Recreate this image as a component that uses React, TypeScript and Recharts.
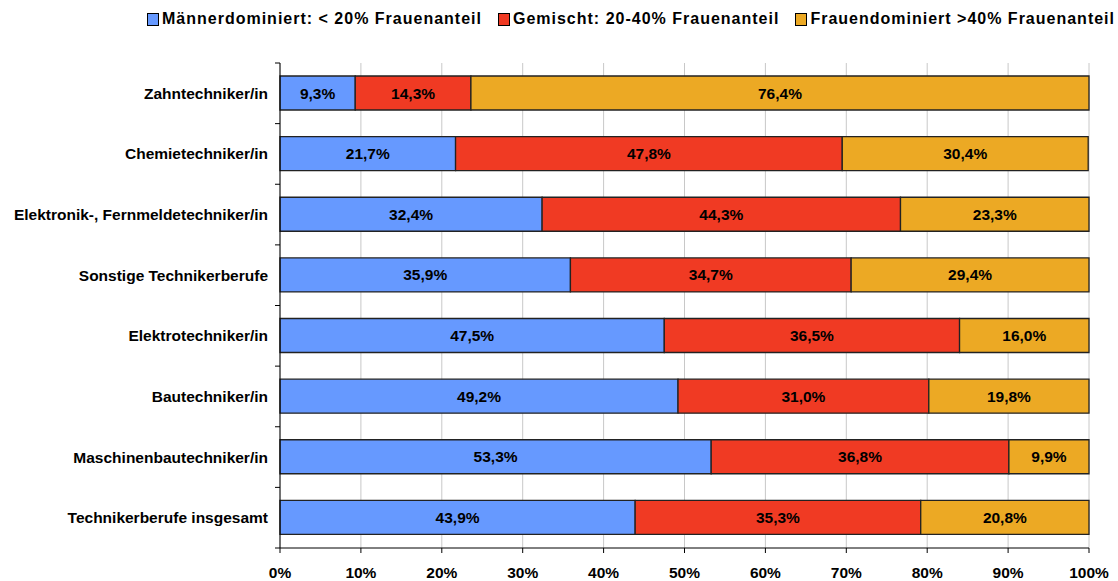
import React from 'react';
import { BarChart, Bar, XAxis, YAxis, CartesianGrid, LabelList } from 'recharts';

const categories = [
  'Zahntechniker/in',
  'Chemietechniker/in',
  'Elektronik-, Fernmeldetechniker/in',
  'Sonstige Technikerberufe',
  'Elektrotechniker/in',
  'Bautechniker/in',
  'Maschinenbautechniker/in',
  'Technikerberufe insgesamt',
];
const maennerdominiert = [9.3, 21.7, 32.4, 35.9, 47.5, 49.2, 53.3, 43.9];
const gemischt = [14.3, 47.8, 44.3, 34.7, 36.5, 31.0, 36.8, 35.3];
const frauendominiert = [76.4, 30.4, 23.3, 29.4, 16.0, 19.8, 9.9, 20.8];
const xTicks = [0, 10, 20, 30, 40, 50, 60, 70, 80, 90, 100];

const seriesNames = [
  'Männerdominiert: < 20% Frauenanteil',
  'Gemischt: 20-40% Frauenanteil',
  'Frauendominiert >40% Frauenanteil',
];
const colors = ['#6699FF', '#F03A23', '#ECA924'];

const data = categories.map((c, i) => ({
  name: c,
  m: maennerdominiert[i],
  g: gemischt[i],
  f: frauendominiert[i],
}));

const W = 1118;
const H = 581;
const M = { top: 63, right: 29, bottom: 0, left: 8 };
const X_AXIS_H = 33;
const BAND = (H - M.top - M.bottom - X_AXIS_H) / categories.length;
const FONT = 'Arial, "Liberation Sans", sans-serif';
const FS = 15.5;

const fmt = (v: any) => `${Number(v).toFixed(1).replace('.', ',')}%`;

const YTick = (props: any) => {
  const { x, y, payload, index } = props;
  const axisX = x + 8;
  return (
    <g>
      <line x1={axisX - 5} x2={axisX} y1={y - BAND / 2} y2={y - BAND / 2} stroke="#000" strokeWidth={1} />
      {index === categories.length - 1 && (
        <line x1={axisX - 5} x2={axisX} y1={y + BAND / 2} y2={y + BAND / 2} stroke="#000" strokeWidth={1} />
      )}
      <text x={axisX - 12} y={y} textAnchor="end" dominantBaseline="central" fontFamily={FONT} fontWeight="bold" fontSize={FS} fill="#000">
        {payload.value}
      </text>
    </g>
  );
};

const labelStyle = { fontFamily: FONT, fontWeight: 'bold', fontSize: FS, fill: '#000' };

export default function App() {
  return (
    <div style={{ position: 'absolute', left: 0, top: 0, width: W, height: H, background: '#fff' }}>
      <div
        style={{
          position: 'absolute',
          top: 10,
          left: 147,
          display: 'flex',
          alignItems: 'center',
          fontFamily: FONT,
          fontWeight: 'bold',
          fontSize: 16,
          letterSpacing: 1.0,
          whiteSpace: 'nowrap',
        }}
      >
        {seriesNames.map((n, i) => (
          <div key={n} style={{ display: 'flex', alignItems: 'center', marginRight: 16 }}>
            <span
              style={{
                display: 'inline-block',
                width: 10,
                height: 11,
                background: colors[i],
                border: '1px solid #000',
                marginRight: 3,
              }}
            />
            <span>{n}</span>
          </div>
        ))}
      </div>
      <BarChart width={W} height={H} data={data} layout="vertical" margin={M} barSize={34}>
        <CartesianGrid horizontal={false} vertical={true} stroke="#c8c8c8" strokeWidth={1} />
        <XAxis
          type="number"
          domain={[0, 100]}
          ticks={xTicks}
          tickFormatter={(v: number) => `${v}%`}
          axisLine={{ stroke: '#000' }}
          tickLine={{ stroke: '#000' }}
          tickSize={5}
          tickMargin={14}
          height={X_AXIS_H}
          interval={0}
          tick={{ fontFamily: FONT, fontWeight: 'bold', fontSize: FS, fill: '#000' }}
        />
        <YAxis
          type="category"
          dataKey="name"
          width={272}
          axisLine={{ stroke: '#000' }}
          tickLine={false}
          tickSize={0}
          tickMargin={8}
          interval={0}
          tick={<YTick />}
        />
        <Bar dataKey="m" stackId="a" fill={colors[0]} stroke="#222" strokeWidth={1.3} isAnimationActive={false}>
          <LabelList dataKey="m" position="center" formatter={fmt} style={labelStyle} />
        </Bar>
        <Bar dataKey="g" stackId="a" fill={colors[1]} stroke="#222" strokeWidth={1.3} isAnimationActive={false}>
          <LabelList dataKey="g" position="center" formatter={fmt} style={labelStyle} />
        </Bar>
        <Bar dataKey="f" stackId="a" fill={colors[2]} stroke="#222" strokeWidth={1.3} isAnimationActive={false}>
          <LabelList dataKey="f" position="center" formatter={fmt} style={labelStyle} />
        </Bar>
      </BarChart>
    </div>
  );
}
